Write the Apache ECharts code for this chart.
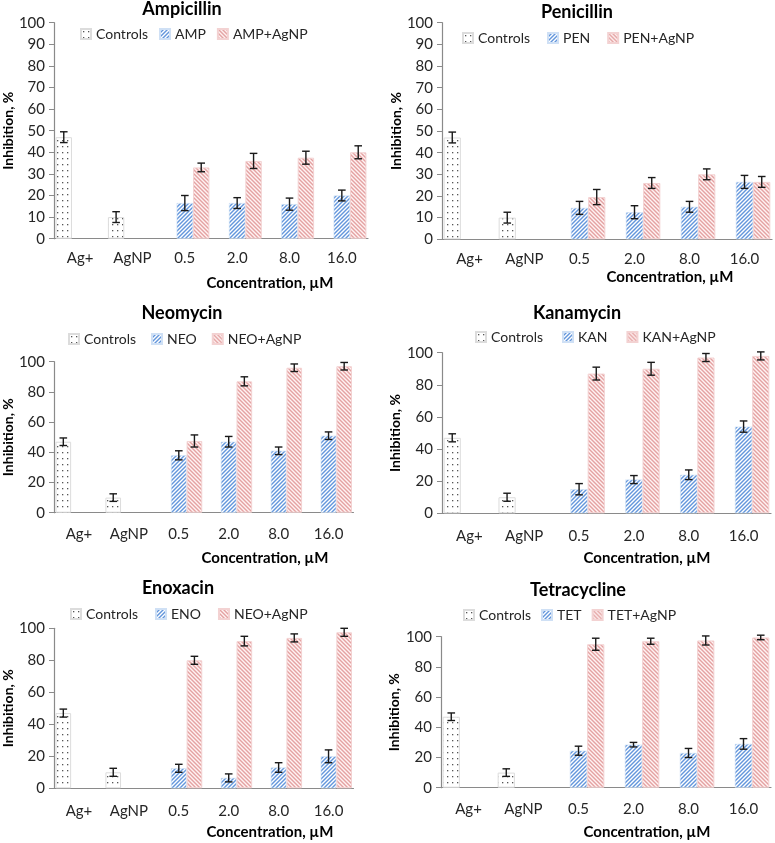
<!DOCTYPE html>
<html><head><meta charset="utf-8">
<script src="https://cdn.jsdelivr.net/npm/echarts@6/dist/echarts.min.js"></script>
<style>html,body{margin:0;padding:0;background:#fff}#c{width:775px;height:843px}</style>
</head><body><div id="c"></div>
<script>
// ---------------- DATA ----------------
const categories = ['Ag+', 'AgNP', '0.5', '2.0', '8.0', '16.0'];
const controlValues = [47, 10];
const controlErrors = [2.5, 2.5];

const panelTitles = ['Ampicillin', 'Penicillin', 'Neomycin', 'Kanamycin', 'Enoxacin', 'Tetracycline'];
const drugNames = ['AMP', 'PEN', 'NEO', 'KAN', 'ENO', 'TET'];
const comboNames = ['AMP+AgNP', 'PEN+AgNP', 'NEO+AgNP', 'KAN+AgNP', 'NEO+AgNP', 'TET+AgNP'];
const yTicksStep = [10, 10, 20, 20, 20, 20];
const xAxisTitle = 'Concentration, µM';
const yAxisTitle = 'Inhibition, %';

const ampValues = [16.5, 16.5, 16, 20];
const ampErrors = [3.5, 2.5, 2.8, 2.5];
const ampAgValues = [33, 36, 37.5, 40];
const ampAgErrors = [2, 3.5, 3, 3];

const penValues = [14.5, 12.5, 15, 26.5];
const penErrors = [3, 3, 2.5, 3];
const penAgValues = [19.5, 26, 30, 26.5];
const penAgErrors = [3.5, 2.5, 2.5, 2.5];

const neoValues = [38, 47, 41, 51];
const neoErrors = [3, 3.5, 2.5, 2.5];
const neoAgValues = [47.5, 87, 96, 97];
const neoAgErrors = [4, 3, 2.5, 2.5];

const kanValues = [15, 21, 24, 54];
const kanErrors = [3.5, 2.5, 3, 3.5];
const kanAgValues = [87, 90, 97, 98];
const kanAgErrors = [4, 4, 2.5, 2.5];

const enoValues = [12.5, 6.5, 13, 20];
const enoErrors = [2.5, 2.5, 3, 4];
const enoAgValues = [80, 92, 94, 97.5];
const enoAgErrors = [2.5, 3, 2.5, 2.5];

const tetValues = [24.5, 28.5, 23, 29];
const tetErrors = [3, 1.5, 3, 3.5];
const tetAgValues = [95, 97, 97.5, 99.5];
const tetAgErrors = [4, 2, 3, 1.5];

const drugValueSets = [ampValues, penValues, neoValues, kanValues, enoValues, tetValues];
const drugErrorSets = [ampErrors, penErrors, neoErrors, kanErrors, enoErrors, tetErrors];
const comboValueSets = [ampAgValues, penAgValues, neoAgValues, kanAgValues, enoAgValues, tetAgValues];
const comboErrorSets = [ampAgErrors, penAgErrors, neoAgErrors, kanAgErrors, enoAgErrors, tetAgErrors];

// ---------------- LAYOUT / STYLE ----------------
const FONT = 'Lato, "Open Sans", sans-serif';
const grids = [
  {left: 52.5, top: 22.7, width: 315.5, height: 216},
  {left: 442, top: 22.7, width: 330, height: 216.6},
  {left: 51.5, top: 361.7, width: 302, height: 151},
  {left: 442, top: 352.7, width: 329, height: 160.6},
  {left: 51.5, top: 628.3, width: 302, height: 160},
  {left: 441, top: 636.7, width: 330, height: 151}
];
const titlePos = [[182, 9], [577, 12], [182, 313], [577, 313], [178, 588], [578, 590]];
const xTitlePos = [[270, 283], [670, 277], [265, 558], [647, 558], [270, 832], [647, 832]];
const legendPos = [[80, 27, 11], [462, 31, 17], [68, 332, 15], [475, 330, 19], [70, 607, 17], [463, 608, 10]];
const yNameGap = [34, 39, 35, 40, 35, 40];
const xLabelMargin = [12, 12, 14, 15, 15, 14];
const CAT_GAP = 0.06;

function stripePattern(dir, fg, bg) {
  const s = 4;
  const c = document.createElement('canvas');
  c.width = s; c.height = s;
  const g = c.getContext('2d');
  g.fillStyle = bg; g.fillRect(0, 0, s, s);
  g.strokeStyle = fg; g.lineWidth = 1.4;
  for (let k = -1; k <= 1; k++) {
    g.beginPath();
    if (dir > 0) { g.moveTo(k * s - 1, s + 1); g.lineTo(k * s + s + 1, -1); }
    else { g.moveTo(k * s - 1, -1); g.lineTo(k * s + s + 1, s + 1); }
    g.stroke();
  }
  return {image: c, repeat: 'repeat'};
}
function dotPattern() {
  const c = document.createElement('canvas');
  c.width = 5; c.height = 6;
  const g = c.getContext('2d');
  g.fillStyle = '#ffffff'; g.fillRect(0, 0, 5, 6);
  g.fillStyle = '#555555';
  g.fillRect(2, 2, 1.3, 1.3);
  return {image: c, repeat: 'repeat'};
}
const dotFill = dotPattern();
const blueFill = stripePattern(1, '#6396dc', '#ffffff');
const pinkFill = stripePattern(-1, '#e4a2a2', '#fff3f3');

function pad(vals, lead) {
  const out = [];
  for (let i = 0; i < categories.length; i++) out.push('-');
  vals.forEach((v, i) => { out[i + lead] = v; });
  return out;
}
function errData(vals, errs, lead, slot) {
  return vals.map((v, i) => [i + lead, v - errs[i], v + errs[i], slot]);
}
function renderErr(params, api) {
  const cat = api.value(0), lo = api.value(1), hi = api.value(2), slot = api.value(3);
  const band = api.size([1, 0])[0];
  const bw = band * (1 - CAT_GAP) / 3;
  const base = api.coord([cat, lo]);
  const top = api.coord([cat, hi]);
  const x = base[0] + (slot - 1) * bw;
  const cap = 3.8;
  const st = {stroke: '#1a1a1a', lineWidth: 1.4};
  return {type: 'group', children: [
    {type: 'line', shape: {x1: x, y1: base[1], x2: x, y2: top[1]}, style: st},
    {type: 'line', shape: {x1: x - cap, y1: base[1], x2: x + cap, y2: base[1]}, style: st},
    {type: 'line', shape: {x1: x - cap, y1: top[1], x2: x + cap, y2: top[1]}, style: st}
  ]};
}

const option = {
  animation: false,
  backgroundColor: '#ffffff',
  textStyle: {fontFamily: FONT},
  title: [], legend: [], grid: [], xAxis: [], yAxis: [], series: []
};

for (let p = 0; p < 6; p++) {
  option.grid.push(Object.assign({containLabel: false}, grids[p]));
  option.title.push({
    text: panelTitles[p], left: titlePos[p][0], top: titlePos[p][1], padding: 0,
    textAlign: 'center', textVerticalAlign: 'middle',
    textStyle: {fontFamily: FONT, fontWeight: 'bold', fontSize: 18, color: '#000'}
  });
  option.title.push({
    text: xAxisTitle, left: xTitlePos[p][0], top: xTitlePos[p][1], padding: 0,
    textAlign: 'center', textVerticalAlign: 'middle',
    textStyle: {fontFamily: FONT, fontWeight: 'bold', fontSize: 15, color: '#000'}
  });
  option.legend.push({
    data: ['Controls', drugNames[p], comboNames[p]],
    left: legendPos[p][0], top: legendPos[p][1], itemGap: legendPos[p][2], padding: 0,
    icon: 'rect', itemWidth: 10, itemHeight: 10,
    textStyle: {fontFamily: FONT, fontSize: 14, color: '#262626'},
    selectedMode: false
  });
  option.xAxis.push({
    type: 'category', gridIndex: p, data: categories,
    axisLine: {lineStyle: {color: '#8a8a8a', width: 1.2}},
    axisTick: {show: false},
    axisLabel: {fontFamily: FONT, fontSize: 15, color: '#262626', margin: xLabelMargin[p]}
  });
  option.yAxis.push({
    type: 'value', gridIndex: p, min: 0, max: 100, interval: yTicksStep[p],
    name: yAxisTitle, nameLocation: 'middle', nameRotate: 90, nameGap: yNameGap[p],
    nameTextStyle: {fontFamily: FONT, fontWeight: 'bold', fontSize: 14, color: '#000'},
    axisLine: {show: true, lineStyle: {color: '#8a8a8a', width: 1.2}},
    axisTick: {show: true, length: 5, lineStyle: {color: '#8a8a8a'}},
    splitLine: {show: false},
    axisLabel: {fontFamily: FONT, fontSize: 15, color: '#262626', margin: 9}
  });
  const barCommon = {type: 'bar', xAxisIndex: p, yAxisIndex: p, barGap: '0%', barCategoryGap: (CAT_GAP * 100) + '%'};
  option.series.push(Object.assign({}, barCommon, {
    name: 'Controls', data: pad(controlValues, 0),
    itemStyle: {color: dotFill, borderColor: '#dcdcdc', borderWidth: 1}
  }));
  option.series.push(Object.assign({}, barCommon, {
    name: drugNames[p], data: pad(drugValueSets[p], 2),
    itemStyle: {color: blueFill, borderColor: '#cfe0f5', borderWidth: 0.6}
  }));
  option.series.push(Object.assign({}, barCommon, {
    name: comboNames[p], data: pad(comboValueSets[p], 2),
    itemStyle: {color: pinkFill, borderColor: '#f3d2d2', borderWidth: 1}
  }));
  option.series.push({
    type: 'custom', name: 'err' + p, xAxisIndex: p, yAxisIndex: p,
    renderItem: renderErr, encode: {x: 0, y: [1, 2]}, z: 5, silent: true,
    data: errData(controlValues, controlErrors, 0, 0)
      .concat(errData(drugValueSets[p], drugErrorSets[p], 2, 1))
      .concat(errData(comboValueSets[p], comboErrorSets[p], 2, 2))
  });
}

const chart = echarts.init(document.getElementById('c'));
chart.setOption(option);
</script>
</body></html>
